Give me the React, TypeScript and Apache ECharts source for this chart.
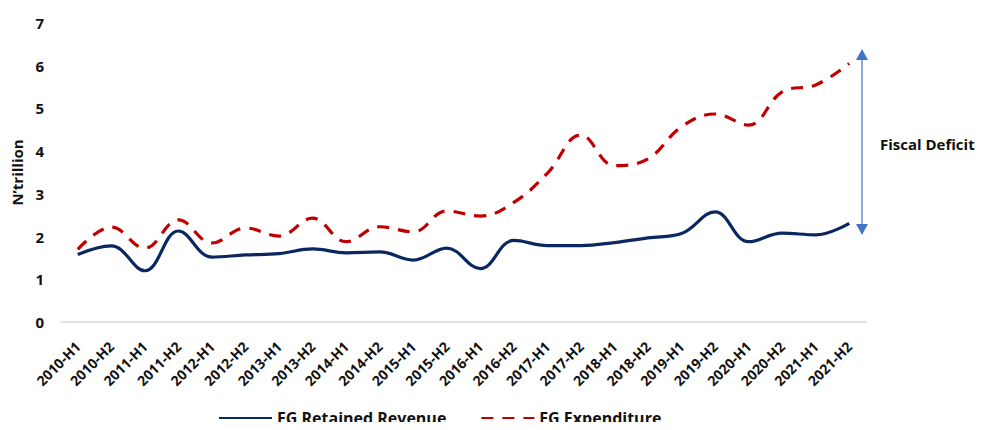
import React, { useEffect, useRef } from "react";
import * as echarts from "echarts";

const categories = [
  "2010-H1", "2010-H2", "2011-H1", "2011-H2", "2012-H1", "2012-H2",
  "2013-H1", "2013-H2", "2014-H1", "2014-H2", "2015-H1", "2015-H2",
  "2016-H1", "2016-H2", "2017-H1", "2017-H2", "2018-H1", "2018-H2",
  "2019-H1", "2019-H2", "2020-H1", "2020-H2", "2021-H1", "2021-H2",
];

const revenue = [
  1.58, 1.78, 1.2, 2.13, 1.52, 1.57, 1.6, 1.71, 1.62, 1.64, 1.45, 1.73,
  1.25, 1.91, 1.79, 1.79, 1.86, 1.97, 2.07, 2.58, 1.88, 2.08, 2.04, 2.31,
];

const expenditure = [
  1.7, 2.22, 1.73, 2.39, 1.85, 2.2, 2.01, 2.43, 1.88, 2.23, 2.11, 2.6,
  2.48, 2.8, 3.48, 4.38, 3.66, 3.82, 4.57, 4.87, 4.61, 5.39, 5.55, 6.05,
];

const yTicks = [0, 1, 2, 3, 4, 5, 6, 7];

const FONT = "'Open Sans', 'Noto Sans', sans-serif";

export default function App() {
  const ref = useRef<HTMLDivElement>(null);

  useEffect(() => {
    if (!ref.current) return;
    const chart = echarts.init(ref.current, undefined, { renderer: "svg" });
    chart.setOption({
      animation: false,
      textStyle: { fontFamily: FONT },
      grid: { left: 61, right: 117, top: 23, bottom: 108 },
      legend: {
        top: 410,
        left: 218,
        padding: 0,
        itemWidth: 53,
        itemHeight: 4,
        itemGap: 34,
        itemStyle: { color: "transparent", borderColor: "transparent", borderWidth: 0 },
        textStyle: {
          fontFamily: FONT,
          fontWeight: "bold",
          fontSize: 16,
          color: "#111",
        },
        data: ["FG Retained Revenue", "FG Expenditure"],
      },
      xAxis: {
        type: "category",
        data: categories,
        boundaryGap: true,
        axisLine: { show: true, lineStyle: { color: "#d9d9d9", width: 1.5 } },
        axisTick: { show: false },
        axisLabel: {
          rotate: 45,
          interval: 0,
          margin: 22,
          fontFamily: FONT,
          fontWeight: "bold",
          fontSize: 14,
          color: "#111",
        },
      },
      yAxis: {
        type: "value",
        min: yTicks[0],
        max: yTicks[yTicks.length - 1],
        interval: 1,
        name: "N’trillion",
        nameLocation: "middle",
        nameGap: 35,
        nameRotate: 90,
        nameTextStyle: { fontFamily: FONT, fontWeight: "bold", fontSize: 15, color: "#111" },
        axisLine: { show: false },
        axisTick: { show: false },
        splitLine: { show: false },
        axisLabel: {
          margin: 17,
          fontFamily: FONT,
          fontWeight: "bold",
          fontSize: 15,
          color: "#111",
        },
      },
      series: [
        {
          name: "FG Retained Revenue",
          type: "line",
          data: revenue,
          smooth: 0.4,
          symbol: "none",
          lineStyle: { color: "#0b2761", width: 3.2 },
          itemStyle: { color: "#0b2761" },
        },
        {
          name: "FG Expenditure",
          type: "line",
          data: expenditure,
          smooth: 0.4,
          symbol: "none",
          lineStyle: { color: "#c00000", width: 3.2, type: [12, 9] },
          itemStyle: { color: "#c00000" },
        },
      ],
      graphic: [
        {
          type: "line",
          shape: { x1: 862, y1: 58, x2: 862, y2: 226 },
          style: { stroke: "#4472c4", lineWidth: 1.2 },
        },
        {
          type: "polygon",
          shape: { points: [[862, 49], [856, 60], [868, 60]] },
          style: { fill: "#4472c4" },
        },
        {
          type: "polygon",
          shape: { points: [[862, 235], [856, 224], [868, 224]] },
          style: { fill: "#4472c4" },
        },
        {
          type: "text",
          x: 880,
          y: 144,
          style: {
            text: "Fiscal Deficit",
            fontFamily: FONT,
            fontWeight: "bold",
            fontSize: 15,
            fill: "#111",
            verticalAlign: "middle",
          },
        },
      ],
    });
    return () => chart.dispose();
  }, []);

  return <div ref={ref} style={{ width: 983, height: 430, margin: -8 }} />;
}
